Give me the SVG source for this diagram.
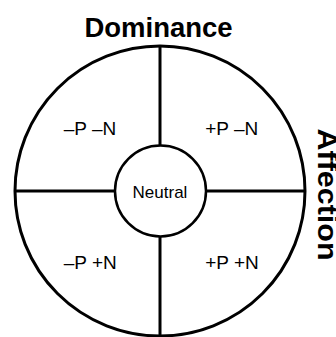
<svg xmlns="http://www.w3.org/2000/svg" width="336" height="337" viewBox="0 0 336 337">
<style>
.ln{stroke:#000;stroke-width:3;fill:none}
.q{font-family:"Liberation Sans",Arial,sans-serif;font-size:19px;text-anchor:middle;fill:#000}
.t{font-family:"Liberation Sans",Arial,sans-serif;font-size:27.5px;font-weight:bold;text-anchor:middle;fill:#000}
</style>
<rect width="336" height="337" fill="#fff"/>
<g id="outer"><circle class="ln" cx="160" cy="191" r="145"/></g>
<g id="connectors">
<line class="ln" x1="160" y1="46" x2="160" y2="145"/>
<line class="ln" x1="160" y1="237" x2="160" y2="337"/>
<line class="ln" x1="15" y1="191" x2="115" y2="191"/>
<line class="ln" x1="206" y1="191" x2="305" y2="191"/>
</g>
<g id="neutral"><circle cx="160.5" cy="191" r="45.5" fill="#fff" stroke="#000" stroke-width="2.5"/>
<text class="q" x="160" y="198" style="font-size:17px">Neutral</text></g>
<g id="q1"><text class="q" x="90" y="135">–P –N</text></g>
<g id="q2"><text class="q" x="231.7" y="135">+P –N</text></g>
<g id="q3"><text class="q" x="90.3" y="269">–P +N</text></g>
<g id="q4"><text class="q" x="232" y="269">+P +N</text></g>
<g id="dominance"><text class="t" x="158.5" y="37">Dominance</text></g>
<g id="affection"><text class="t" transform="translate(318.3,194.5) rotate(90)" x="0" y="0" textLength="132" lengthAdjust="spacingAndGlyphs">Affection</text></g>
</svg>
